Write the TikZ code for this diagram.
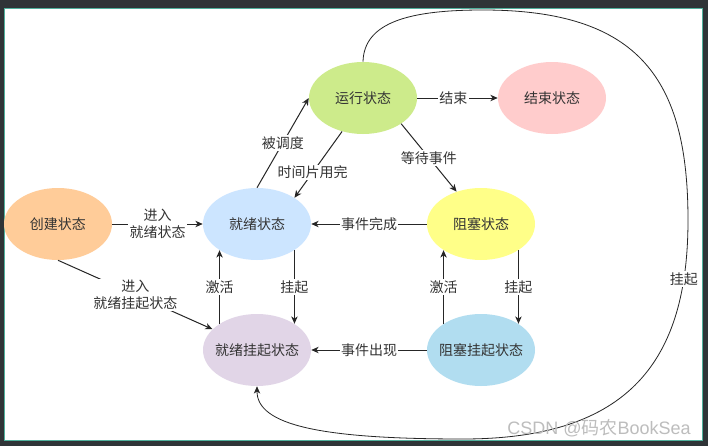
\documentclass[tikz,border=0pt]{standalone}
\usepackage{fontspec}
\setmainfont{Noto Sans CJK SC}
\newfontfamily\wmlat{Liberation Sans}
\usetikzlibrary{shapes.geometric,arrows.meta}
\definecolor{frm}{HTML}{2F3437}
\definecolor{frmln}{HTML}{4FB09C}
\definecolor{txt}{HTML}{333333}
\definecolor{wm}{HTML}{BDBDBD}
\definecolor{cCj}{HTML}{FFCC99}
\definecolor{cJx}{HTML}{CCE5FF}
\definecolor{cRun}{HTML}{CDEB8B}
\definecolor{cEnd}{HTML}{FFCCCC}
\definecolor{cZs}{HTML}{FFFF88}
\definecolor{cJxs}{HTML}{E1D5E7}
\definecolor{cZss}{HTML}{B1DDF0}
\begin{document}
\begin{tikzpicture}[x=0.75pt,y=-0.75pt,font=\fontsize{10.5}{12.5}\selectfont]
				\tikzset{zt/.style 2 args={ellipse,fill=#1,minimum width=81pt,minimum height=54pt,inner sep=0pt,label={[text=txt]center:#2}},
					lab/.style={fill=white,inner sep=1pt,align=center,text=txt},
					arr/.style={-{Stealth[length=5.5pt,width=4.8pt,inset=1.6pt]},line width=0.75pt,draw=black!85}}
				\fill[frm](0,0)rectangle(708,446);
				\draw[frmln,fill=white,line width=0.75pt](4,8)rectangle(702,440);
				\path(58,224)node[zt={cCj}{创建状态}](cj){}++(199,0)node[zt={cJx}{就绪状态}](jx){}++(0,126)node[zt={cJxs}{就绪挂起状态}](jxs){}++(224,0)node[zt={cZss}{阻塞挂起状态}](zss){}++(0,-126)node[zt={cZs}{阻塞状态}](zs){};
				\path(jx)++(106,-126)node[zt={cRun}{运行状态}](run){}++(189,0)node[zt={cEnd}{结束状态}](end){};
				\foreach \x/\y in {
					cj.east/jx.west,cj.south/jxs.155,
					jx.north/run.west,run.238/jx.35,
					run.east/end.west,run.-34/zs.127,
					zs.west/jx.east,zss.west/jxs.east,
					jx.-35/jxs.35,jxs.145/jx.215,
					zss.145/zs.215,zs.-35/zss.35}
				\draw[arr](\x)--(\y);
				\draw[arr,line width=0.6pt](run.north)..controls(364,22)and(410,10)..(483,10)..controls(640,10)and(688,80)..(688,220)..controls(688,360)and(630,439)..(463,439)node[pos=0.15,lab](gq){挂起}..controls(320,439)and(257,425)..(jxs.south);
				\path(cj.east)--(jx.west)node[pos=0.5,lab]{进入\\就绪状态}(cj.south)--(jxs.155)node[pos=0.5,lab]{进入\\就绪挂起状态}
				(jx.north)--(run.west)node[pos=0.5,lab]{被调度}(run.238)--(jx.35)node[pos=0.62,lab]{时间片用完}
				(run.east)--(end.west)node[pos=0.45,lab]{结束}(run.-34)--(zs.127)node[pos=0.5,lab]{等待事件}
				(zs.west)--(jx.east)node[pos=0.5,lab]{事件完成}(zss.west)--(jxs.east)node[pos=0.5,lab]{事件出现}
				(jx.-35)--(jxs.35)node[pos=0.5,lab]{挂起}(jxs.145)--(jx.215)node[pos=0.5,lab]{激活}
				(zss.145)--(zs.215)node[pos=0.5,lab]{激活}(zs.-35)--(zss.35)node[pos=0.5,lab]{挂起};
				\node[text=wm,font=\fontsize{13.5}{15}\selectfont](wmk)at(599,428){{\wmlat CSDN @}码农{\wmlat BookSea}};
			\end{tikzpicture}
\end{document}
